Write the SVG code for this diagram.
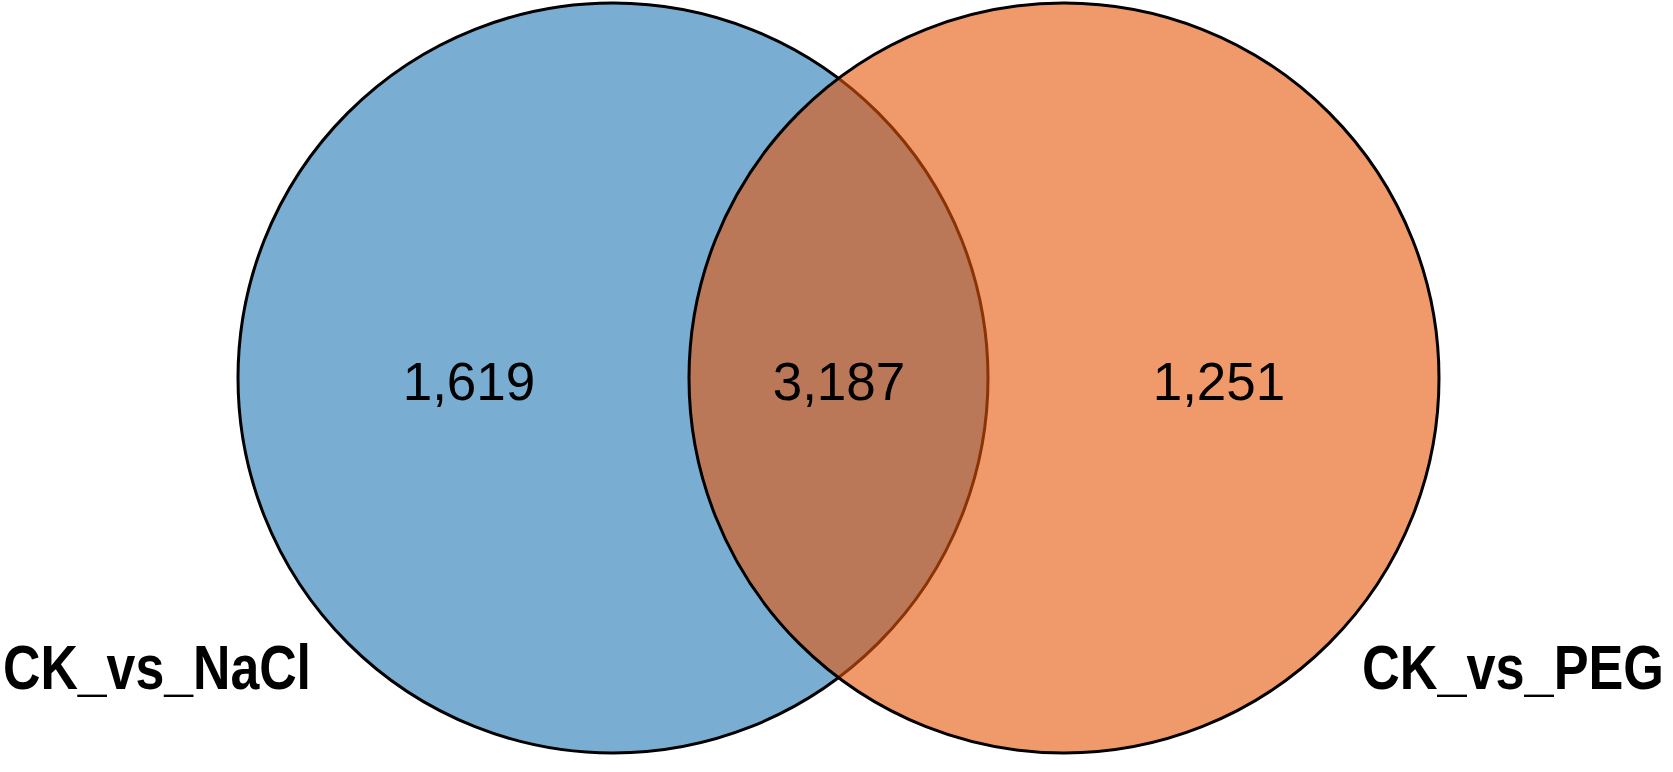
<svg xmlns="http://www.w3.org/2000/svg" width="1673" height="772" viewBox="0 0 1673 772">
<style>
.ring{stroke:#000;stroke-width:3}
.num{font-family:"Liberation Sans",Arial,sans-serif;font-size:53px;fill:#000;text-anchor:middle}
.lab{font-family:"Liberation Sans",Arial,sans-serif;font-size:63px;font-weight:bold;fill:#000}
</style>
<rect width="1673" height="772" fill="#fff"/>
<g id="set-nacl">
<circle class="ring" cx="613" cy="378" r="375" fill="#79ADD2"/>
</g>
<g id="set-peg">
<circle class="ring" cx="1064" cy="378" r="375" fill="#E65507" fill-opacity="0.6"/>
</g>
<g id="labels">
<text class="num" x="469" y="400">1,619</text>
<text class="num" x="839" y="400">3,187</text>
<text class="num" x="1219" y="400">1,251</text>
<text class="lab" x="3" y="689" textLength="308" lengthAdjust="spacingAndGlyphs">CK_vs_NaCl</text>
<text class="lab" x="1362" y="689" textLength="302" lengthAdjust="spacingAndGlyphs">CK_vs_PEG</text>
</g>
<g id="connectors"/>
</svg>
